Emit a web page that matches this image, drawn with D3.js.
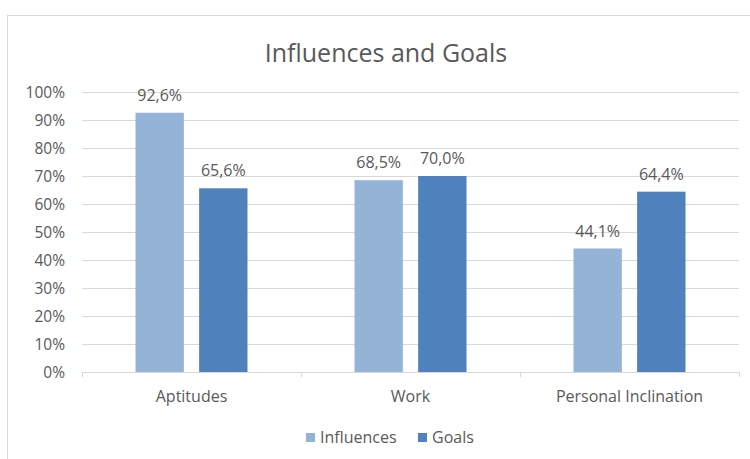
<!DOCTYPE html>
<html><head><meta charset="utf-8">
<script src="https://cdn.jsdelivr.net/npm/d3@7"></script>
<style>body{margin:0;background:#fff;}svg{display:block;font-family:"Open Sans",sans-serif;}</style>
</head><body><div id="chart"></div>
<script>
const categories = ["Aptitudes", "Work", "Personal Inclination"];
const seriesNames = ["Influences", "Goals"];
const influences = [0.926, 0.685, 0.441];
const goals = [0.656, 0.700, 0.644];
const yTicks = [0, 0.1, 0.2, 0.3, 0.4, 0.5, 0.6, 0.7, 0.8, 0.9, 1.0];
const colors = ["#95B3D7", "#4F81BD"];

const W = 750, H = 459;
const txt = "#595959";
const svg = d3.select("#chart").append("svg").attr("width", W).attr("height", H);
svg.append("rect").attr("x", 7.5).attr("y", 15.5).attr("width", 800).attr("height", 500)
  .attr("fill", "#fff").attr("stroke", "#D9D9D9");

svg.append("text").attr("x", 386).attr("y", 62).attr("text-anchor", "middle")
  .attr("font-size", 25).attr("fill", txt).text("Influences and Goals");

const pLeft = 82, pRight = 739, pTop = 92, pBottom = 372;
const y = d3.scaleLinear().domain([0, 1]).range([pBottom, pTop]);
const x0 = d3.scaleBand().domain(categories).range([pLeft, pRight]).padding(0);
const groupW = 112;
const x1 = d3.scaleBand().domain(seriesNames).range([0, groupW]).paddingInner(0.24).paddingOuter(0);
const fmt = v => (v * 100).toFixed(1).replace(".", ",") + "%";

// gridlines
svg.append("g").selectAll("line").data(yTicks.slice(1)).join("line")
  .attr("x1", pLeft).attr("x2", pRight).attr("y1", d => Math.round(y(d)) + 0.5).attr("y2", d => Math.round(y(d)) + 0.5)
  .attr("stroke", "#D9D9D9").attr("stroke-width", 1);

// y labels
svg.append("g").selectAll("text").data(yTicks).join("text")
  .attr("x", 65).attr("y", d => y(d) + 6).attr("text-anchor", "end")
  .attr("font-size", 15.5).attr("fill", txt)
  .text(d => Math.round(d * 100) + "%");

// bars
const data = categories.map((c, i) => ({c, vals: [influences[i], goals[i]]}));
const groups = svg.append("g").selectAll("g").data(data).join("g")
  .attr("transform", d => `translate(${x0(d.c) + (x0.bandwidth() - groupW) / 2},0)`);
groups.selectAll("rect").data(d => d.vals.map((v, j) => ({s: seriesNames[j], v, j}))).join("rect")
  .attr("x", d => x1(d.s)).attr("width", x1.bandwidth())
  .attr("y", d => y(d.v)).attr("height", d => y(0) - y(d.v))
  .attr("fill", d => colors[d.j]);
groups.selectAll("text").data(d => d.vals.map((v, j) => ({s: seriesNames[j], v, j}))).join("text")
  .attr("x", d => x1(d.s) + x1.bandwidth() / 2).attr("y", d => y(d.v) - 12)
  .attr("text-anchor", "middle").attr("font-size", 16).attr("fill", txt)
  .text(d => fmt(d.v));

// x axis
const xa = svg.append("g");
xa.append("line").attr("x1", pLeft).attr("x2", pRight).attr("y1", pBottom + 0.5).attr("y2", pBottom + 0.5)
  .attr("stroke", "#D9D9D9");
xa.selectAll("line.tk").data([pLeft, ...categories.map(c => x0(c) + x0.bandwidth())]).join("line").attr("class", "tk")
  .attr("x1", d => Math.round(d) + 0.5).attr("x2", d => Math.round(d) + 0.5).attr("y1", pBottom).attr("y2", pBottom + 5)
  .attr("stroke", "#D9D9D9");
xa.selectAll("text").data(categories).join("text")
  .attr("x", d => x0(d) + x0.bandwidth() / 2).attr("y", 402)
  .attr("text-anchor", "middle").attr("font-size", 16).attr("fill", txt).text(d => d);

// legend
const legend = svg.append("g");
const legX = [306, 418];
seriesNames.forEach((s, i) => {
  legend.append("rect").attr("x", legX[i]).attr("y", 433).attr("width", 9).attr("height", 9).attr("fill", colors[i]);
  legend.append("text").attr("x", legX[i] + 14).attr("y", 443).attr("font-size", 16).attr("fill", txt).text(s);
});
</script></body></html>
